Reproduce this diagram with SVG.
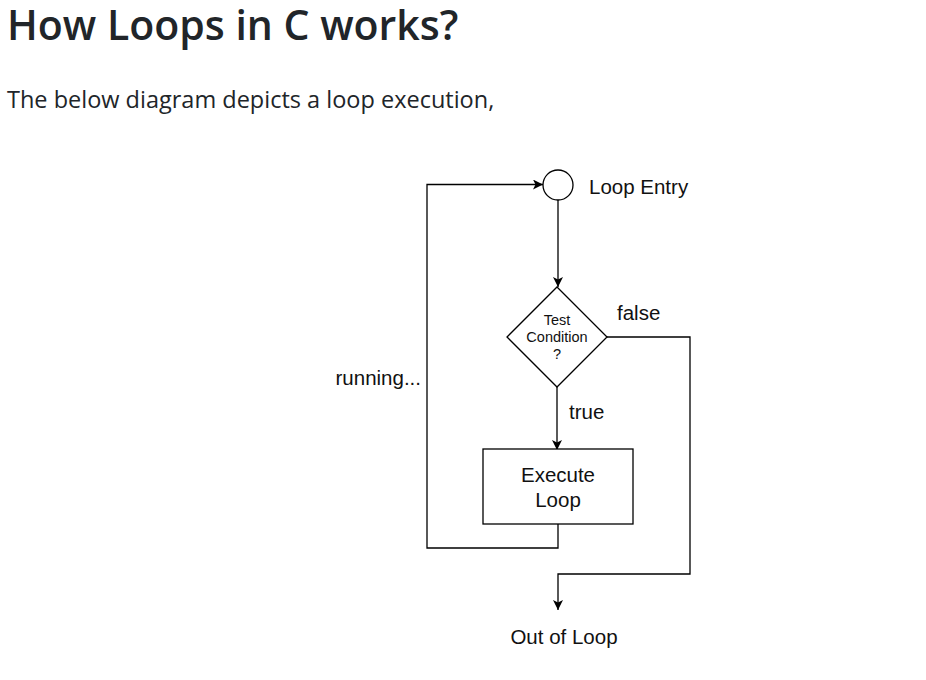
<svg xmlns="http://www.w3.org/2000/svg" width="926" height="680" viewBox="0 0 926 680">
<defs>
<marker id="arr" viewBox="0 0 10 10" refX="10" refY="5" markerWidth="10" markerHeight="10" markerUnits="userSpaceOnUse" orient="auto">
<path d="M0,0 L10,5 L0,10 L2.5,5 z" fill="#000"/>
</marker>
<style>
.h{font-family:"Open Sans","Noto Sans",sans-serif;font-weight:600;font-size:41px;fill:#212529}
.p{font-family:"Open Sans","Noto Sans",sans-serif;font-size:23.5px;fill:#212529}
.t{font-family:"Liberation Sans",Arial,sans-serif;font-size:20.5px;fill:#111}
.s{font-family:"Liberation Sans",Arial,sans-serif;font-size:14.5px;fill:#111}
.shape{fill:#fff;stroke:#000;stroke-width:1.3}
.line{fill:none;stroke:#000;stroke-width:1.3}
</style>
</defs>
<rect width="926" height="680" fill="#fff"/>
<text class="h" x="7" y="40">How Loops in C works?</text>
<text class="p" x="7" y="108">The below diagram depicts a loop execution,</text>
<g id="connectors">
<path class="line" d="M558,200 V287" marker-end="url(#arr)"/>
<path class="line" d="M557,387 V450" marker-end="url(#arr)"/>
<path class="line" d="M558,524 V548 H427 V184.5 H543" marker-end="url(#arr)"/>
<path class="line" d="M607,337 H690 V574 H558 V610" marker-end="url(#arr)"/>
</g>
<g id="entry">
<circle class="shape" cx="558" cy="185" r="15"/>
<text class="t" x="589" y="194">Loop Entry</text>
</g>
<g id="condition">
<path class="shape" d="M557,287 L607,337 L557,387 L507,337 z"/>
<text class="s" x="557" y="325" text-anchor="middle">Test</text>
<text class="s" x="557" y="342" text-anchor="middle">Condition</text>
<text class="s" x="557" y="359" text-anchor="middle">?</text>
</g>
<g id="execute">
<rect class="shape" x="483" y="449" width="150" height="75"/>
<text class="t" x="558" y="482" text-anchor="middle">Execute</text>
<text class="t" x="558" y="507" text-anchor="middle">Loop</text>
</g>
<g id="exit">
<text class="t" x="564" y="644" text-anchor="middle">Out of Loop</text>
</g>
<g id="labels">
<text class="t" x="617" y="320">false</text>
<text class="t" x="569" y="419">true</text>
<text class="t" x="421" y="385" text-anchor="end">running...</text>
</g>
</svg>
